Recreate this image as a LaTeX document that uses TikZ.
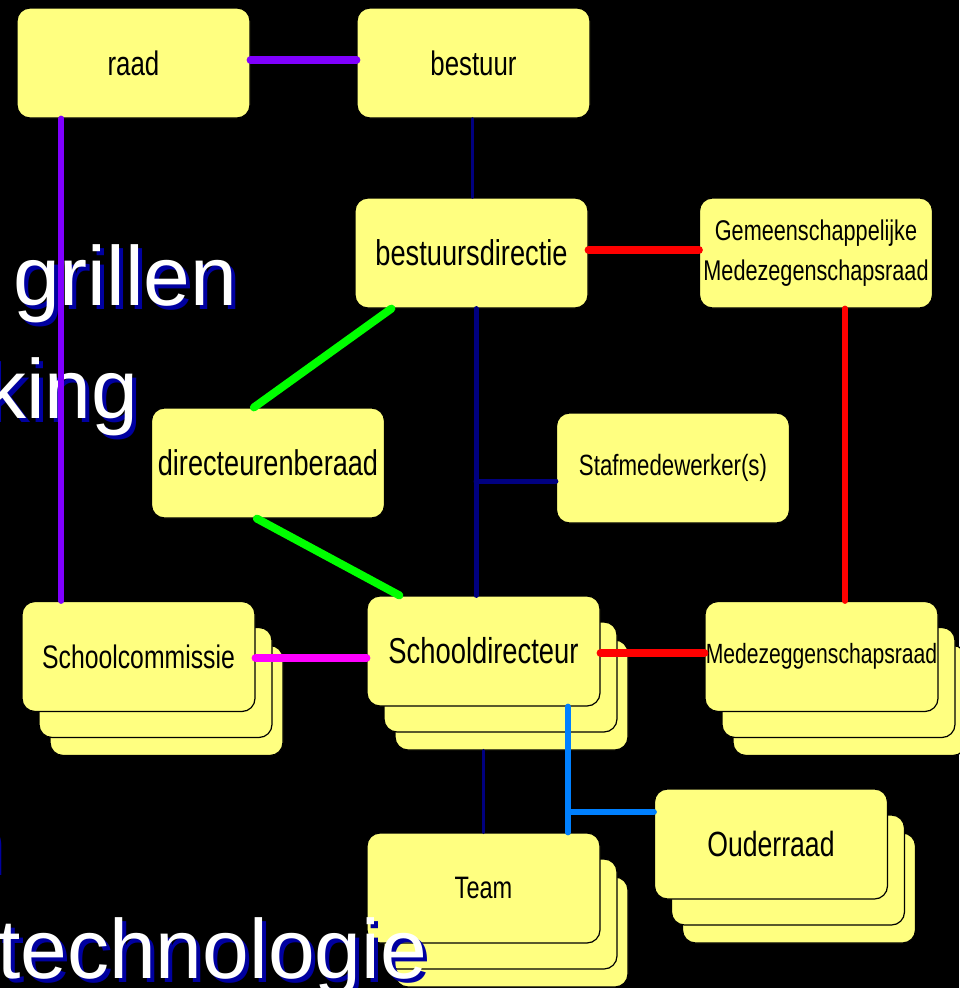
\documentclass[tikz,border=0pt]{standalone}
\usepackage{fontspec}
\setmainfont{Liberation Sans}
\newfontfamily\boxfont{Liberation Sans}[FakeStretch=0.76]
\usetikzlibrary{calc}
\definecolor{cardyellow}{HTML}{FFFF80}
\definecolor{lnpurple}{HTML}{8000FF}
\definecolor{lnnavy}{HTML}{000080}
\definecolor{lnred}{HTML}{FF0000}
\definecolor{lngreen}{HTML}{00FF00}
\definecolor{lnmagenta}{HTML}{FF00FF}
\definecolor{lnblue}{HTML}{0080FF}
\definecolor{shadowblue}{HTML}{0000A0}
\begin{document}
\begin{tikzpicture}[x=1pt,y=-1pt,
  card/.style={draw=black,line width=1.2pt,fill=cardyellow,rounded corners=13pt,
    minimum width=233pt,minimum height=110pt,inner sep=0pt,align=center},
  sz/.style={font=\boxfont\fontsize{#1}{40}\selectfont},
  bgtext/.style={text=white,anchor=base west,inner sep=0pt,font=\fontsize{84}{84}\selectfont},
  bgshadow/.style={bgtext,text=shadowblue},
  conn/.style={line cap=round}]
\fill[black] (0,0) rectangle (959,988);
\useasboundingbox (0,0) rectangle (959,988);

% stacked rear cards
\node[card] (scom3) at (166.5,700.5) {};
\node[card] (scom2) at (155.5,682.5) {};
\node[card] (sdir3) at (511.5,695) {};
\node[card] (sdir2) at (500.5,677) {};
\node[card] (mr3) at (849.5,700.5) {};
\node[card] (mr2) at (838.5,682.5) {};
\node[card] (team3) at (511.5,932) {};
\node[card] (team2) at (500.5,914) {};
\node[card] (ouder3) at (799,888) {};
\node[card] (ouder2) at (788,870) {};

% front cards
\node[card,sz=34] (raad) at (133.5,63) {raad};
\node[card,sz=34] (bestuur) at (473.5,63) {bestuur};
\node[card,sz=35.8] (bdir) at (471.5,253) {bestuursdirectie};
\node[card,sz=28.5] (gmr) at (816,253) {Gemeenschappelijke\\Medezegenschapsraad};
\node[card,sz=35.7] (dirb) at (268,463) {directeurenberaad};
\node[card,sz=29.3] (staf) at (673,468) {Stafmedewerker(s)};
\node[card,sz=32.6] (scom) at (138.5,656.5) {Schoolcommissie};
\node[card,sz=36] (sdir) at (483.5,651) {Schooldirecteur};
\node[card,sz=27.8] (mr) at (821.5,656.5) {Medezeggenschapsraad};
\node[card,sz=31] (team) at (483.5,888) {Team};
\node[card,sz=35] (ouder) at (771,844) {Ouderraad};

% background slide text
\node[bgshadow] (t1s) at (17,309) {grillen};
\node[bgtext] (t1) at (13,305) {grillen};
\node[bgshadow] (t2s) at (-12,422) {king};
\node[bgtext] (t2) at (-16,418) {king};
\node[bgshadow] (t3s) at (-40,875) {n};
\node[bgtext] (t3) at (-44,871) {n};
\node[bgshadow] (t4s) at (1,982) {technologie};
\node[bgtext] (t4) at (-3,978) {technologie};

% connectors
\draw[conn,lnpurple,line width=8pt] ([yshift=3pt]raad.east) -- ([yshift=3pt]bestuur.west);
\draw[conn,lnpurple,line width=6pt] ([xshift=45pt]raad.south west) -- ([xshift=40pt]scom.north west);
\draw[conn,lnnavy,line width=3pt] ([xshift=-1.5pt]bestuur.south) -- ([xshift=-1.5pt]bestuur.south |- bdir.north);
\draw[conn,lnred,line width=8pt] ([yshift=3pt]bdir.east) -- ([yshift=3pt]gmr.west);
\path ([xshift=29pt]gmr.south) coordinate (gmrout);
\draw[conn,lnred,line width=6pt] (gmrout) -- (gmrout |- mr.north);
\draw[conn,lngreen,line width=8pt] ([xshift=37pt]bdir.south west) -- ([xshift=103pt]dirb.north west);
\draw[conn,lngreen,line width=8pt] ([xshift=106pt]dirb.south west) -- ([xshift=33pt]sdir.north west);
\path ([xshift=4.5pt]bdir.south) coordinate (trunktop);
\path ([yshift=-13pt]staf.west) coordinate (stafin);
\draw[conn,lnnavy,line width=5pt] (trunktop) -- (trunktop |- sdir.north);
\draw[conn,lnnavy,line width=5pt] (trunktop |- stafin) -- (stafin);
\path ([yshift=-1.5pt]scom.east) coordinate (scomout);
\draw[conn,lnmagenta,line width=8pt] (scomout) -- (scomout -| sdir.west);
\path ([yshift=-2pt]sdir.east) coordinate (sdirout);
\draw[conn,lnred,line width=8pt] (sdirout) -- (sdirout -| mr.west);
\draw[conn,lnnavy,line width=3.5pt] (sdir3.south -| team.north) -- (team.north);
\path ([xshift=84.5pt]sdir.south) coordinate (bluetop);
\path ([yshift=32pt]ouder.west) coordinate (ouderin);
\draw[conn,lnblue,line width=6pt] (bluetop) -- (bluetop |- team.north);
\draw[conn,lnblue,line width=6pt] (bluetop |- ouderin) -- (ouderin);
\end{tikzpicture}
\end{document}
